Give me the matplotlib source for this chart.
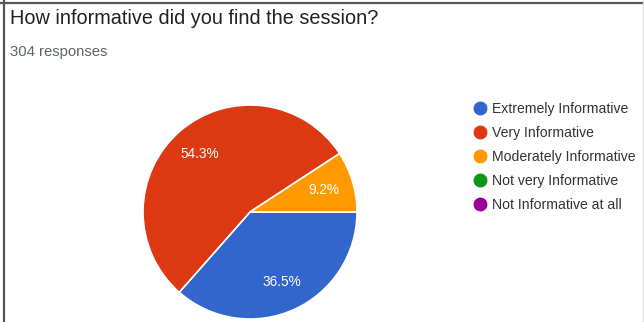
import matplotlib
matplotlib.use("Agg")
import matplotlib.pyplot as plt
from matplotlib.lines import Line2D

plt.rcParams['font.family'] = ['Liberation Sans', 'DejaVu Sans']

title = "How informative did you find the session?"
subtitle = "304 responses"
categories = ["Extremely Informative", "Very Informative", "Moderately Informative",
              "Not very Informative", "Not Informative at all"]
values = [36.5, 54.3, 9.2, 0.0, 0.0]
colors = ["#3366cc", "#dc3912", "#ff9900", "#109618", "#990099"]

W, H = 644, 322
fig = plt.figure(figsize=(W / 100, H / 100), dpi=100)
fig.patch.set_facecolor("white")

# border lines
fig.add_artist(Line2D([0, 1], [1 - 2.5 / H, 1 - 2.5 / H], transform=fig.transFigure,
                      color="#555555", lw=1.6))
fig.add_artist(Line2D([3.5 / W, 3.5 / W], [0, 1], transform=fig.transFigure,
                      color="#555555", lw=1.6))
fig.add_artist(Line2D([1 - 1.5 / W, 1 - 1.5 / W], [0, 1], transform=fig.transFigure,
                      color="#dddddd", lw=1.0))

fig.text(10 / W, 1 - 18 / H, title, fontsize=14.3, color="#202124", va="center", ha="left")
fig.text(10 / W, 1 - 52 / H, subtitle, fontsize=10.7, color="#5f6368", va="center", ha="left")

cx, cy, r = 250, 212, 107
ax = fig.add_axes([(cx - r) / W, (H - cy - r) / H, 2 * r / W, 2 * r / H])
nz = [i for i, v in enumerate(values) if v > 0]
wedges, texts, autotexts = ax.pie(
    [values[i] for i in nz], colors=[colors[i] for i in nz],
    startangle=0, counterclock=False,
    autopct=lambda p: f"{p:.1f}%", pctdistance=0.72,
    wedgeprops=dict(edgecolor="white", linewidth=1.2),
    textprops=dict(color="white", fontsize=9.8))
ax.set_xlim(-1, 1)
ax.set_ylim(-1, 1)
ax.set_aspect("equal")

handles = [Line2D([0], [0], marker="o", linestyle="none", markersize=9,
                  markerfacecolor=c, markeredgecolor=c) for c in colors]
fig.legend(handles, categories, loc="upper left",
           bbox_to_anchor=(472 / W, 1 - 102 / H), frameon=False,
           fontsize=10.1, labelcolor="#333333", handletextpad=0.2,
           labelspacing=0.72, handlelength=1.2, borderaxespad=0, borderpad=0)

fig.savefig("out.png", dpi=100)
